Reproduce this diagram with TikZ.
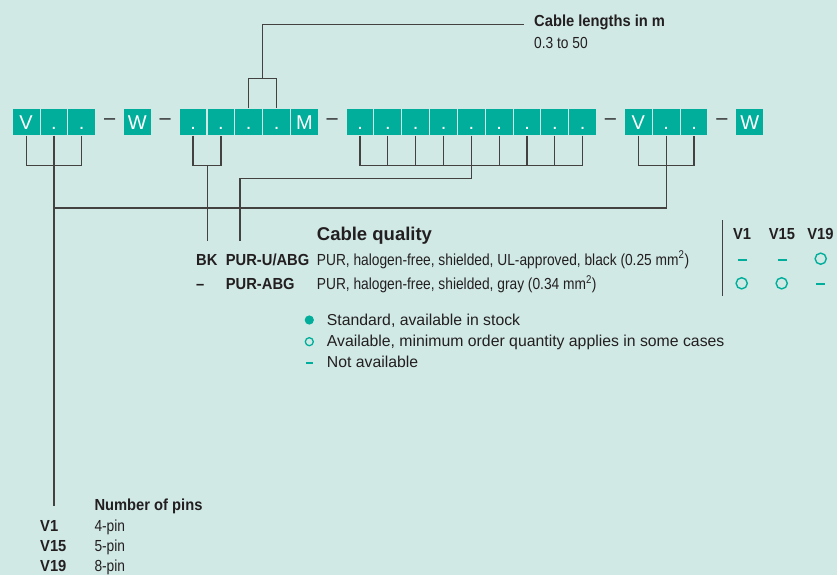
\documentclass[tikz,border=0pt]{standalone}
\usepackage{fontspec}
\setmainfont{Liberation Sans}
\newfontfamily\narrowfont[FakeStretch=0.86,BoldFeatures={FakeStretch=0.92}]{Liberation Sans}
\usetikzlibrary{calc}
\definecolor{pinteal}{RGB}{0,174,155}
\definecolor{mintbg}{RGB}{208,233,229}
\definecolor{inkgray}{RGB}{35,31,32}

\begin{document}
\begin{tikzpicture}[x=1pt,y=-1pt,
    pinbox/.style={fill=pinteal,text=white,minimum size=26.8pt,inner sep=0pt,
        text height=14.3pt,text depth=0pt,font=\fontsize{20}{20}\selectfont},
    sepdash/.style={text=inkgray,inner sep=0pt,font=\fontsize{20}{20}\selectfont},
    wire/.style={draw=inkgray!85,line width=1.2pt},
    headtext/.style={anchor=base west,inner sep=0pt,text=inkgray,font=\narrowfont\bfseries\fontsize{16}{18}\selectfont},
    bodytext/.style={anchor=base west,inner sep=0pt,text=inkgray,font=\narrowfont\fontsize{16}{18}\selectfont},
    legtext/.style={anchor=base west,inner sep=0pt,text=inkgray,font=\fontsize{15.8}{18}\selectfont}]
            \fill[mintbg] (0,0) rectangle (837,575);
            \useasboundingbox (0,0) rectangle (837,575);
            \foreach \k/\t in {0/V,1/.,2/.,4/W,6/.,7/.,8/.,9/.,10/M,12/.,13/.,14/.,15/.,16/.,17/.,18/.,19/.,20/.,22/V,23/.,24/.,26/W}{
                \node[pinbox] (b\k) at (26.1+27.83*\k,122) {\t};
            }
            \foreach \k in {3,5,11,21,25}{
                \node[sepdash] (d\k) at (26.1+27.83*\k,122) {–};
            }
            \node[headtext] (lentitle) at (534,27) {Cable lengths in m};
            \node[bodytext] (lenrange) at (534,48.5) {0.3 to 50};
            \node[anchor=base west,inner sep=0pt,text=inkgray,font=\bfseries\fontsize{18.5}{20}\selectfont] (qtitle) at (316.7,240.4) {Cable quality};
            \node[headtext] (bk) at (196,265) {BK};
            \node[headtext] (purul) at (225.7,265) {PUR-U/ABG};
            \node[bodytext] (purul-d) at (316.7,265) {PUR, halogen-free, shielded, UL-approved, black (0.25 mm\textsuperscript{2})};
            \node[headtext] (none) at (196,289.3) {–};
            \node[headtext] (pur) at (225.7,289.3) {PUR-ABG};
            \node[bodytext] (pur-d) at (316.7,289.3) {PUR, halogen-free, shielded, gray (0.34 mm\textsuperscript{2})};
            \node[headtext,anchor=base] (cv1) at (742,239.3) {V1};
            \node[headtext,anchor=base] (cv15) at (782,239.3) {V15};
            \node[headtext,anchor=base] (cv19) at (820.5,239.3) {V19};
            \node[legtext] (leg1) at (326.7,325.7) {Standard, available in stock};
            \node[legtext] (leg2) at (326.7,346.7) {Available, minimum order quantity applies in some cases};
            \node[legtext] (leg3) at (326.7,367.7) {Not available};
            \node[headtext] (pinstitle) at (94.3,510) {Number of pins};
            \foreach \v/\p/\y in {V1/4/531.2,V15/5/551.7,V19/8/571.6}{
                \node[headtext] (code\v) at (40,\y) {\v};
                \node[bodytext] (pins\v) at (94.3,\y) {\p-pin};
            }
            \coordinate (busA) at (0,208);
            \coordinate (qcode) at (207.5,241);
            \coordinate (qtype) at (240,241);
            \draw[wire] (b0.south) -- ++(0,30) -| (b2.south);
            \draw[wire] (b1.south) -- (b1.south |- pinstitle.west);
            \draw[wire] (b22.south) -- ++(0,30) -| (b24.south);
            \draw[wire] (b23.south) |- (b1.south |- busA);
            \draw[wire] (b6.south) -- ++(0,30) -| (b7.south);
            \draw[wire] (qcode |- b6.south) ++(0,30) -- (qcode);
            \foreach \k in {12,...,20}{
                \draw[wire] (b\k.south) -- ++(0,30);
            }
            \draw[wire] ($(b12.south)+(0,30)$) -- ($(b20.south)+(0,30)$);
            \draw[wire] ($(b16.south)+(0,30)$) -- ++(0,12.6) -| (qtype);
            \draw[wire] (b8.north) -- ++(0,-29.6) -| (b9.north);
            \draw[wire] ($(b8.north)!0.5!(b9.north)+(0,-29.6)$) |- ($(lentitle.west)+(-10,1.5)$);
            \draw[wire] (722.7,220) -- (722.7,296);
            \foreach \x/\y in {742/260,782/260,820.5/284.3}{
                \draw[pinteal,line width=2pt] (\x-4.5,\y) -- (\x+4.5,\y);
            }
            \foreach \x/\y in {820.7/258.7,741.7/283.3,781.7/283.3}{
                \draw[pinteal,line width=1.4pt] (\x,\y) circle[radius=5.6];
            }
            \fill[pinteal] (309.3,320) circle[radius=4.6];
            \draw[pinteal,line width=1.3pt] (309.3,341.7) circle[radius=4];
            \draw[pinteal,line width=1.6pt] (305.8,362.7) -- (312.8,362.7);
        \end{tikzpicture}
\end{document}
